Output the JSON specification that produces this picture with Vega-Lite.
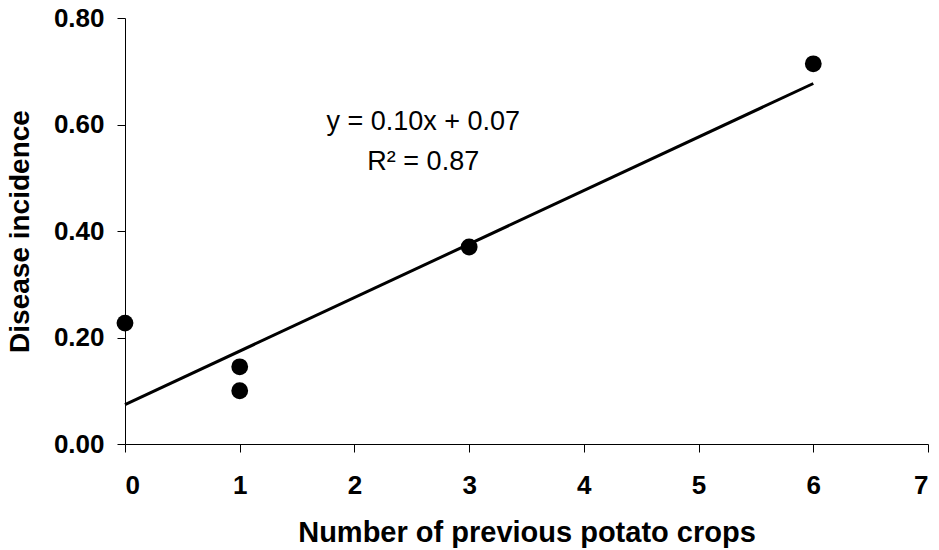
{
  "$schema": "https://vega.github.io/schema/vega-lite/v6.json",
  "width": 803,
  "height": 426,
  "autosize": {"type": "none"},
  "padding": {"left": 125, "top": 18, "right": 11, "bottom": 106},
  "background": "white",
  "config": {
    "view": {"stroke": null},
    "font": "Liberation Sans",
    "axis": {
      "grid": false,
      "domainColor": "black",
      "domainWidth": 1,
      "tickColor": "black",
      "tickWidth": 1,
      "tickSize": 8,
      "labelFont": "Liberation Sans",
      "labelFontWeight": "bold",
      "labelFontSize": 26,
      "labelColor": "black",
      "titleFont": "Liberation Sans",
      "titleFontWeight": "bold",
      "titleColor": "black"
    }
  },
  "datasets": {
    "obs": [
      {"crops": 0, "incidence": 0.227},
      {"crops": 1, "incidence": 0.145},
      {"crops": 1, "incidence": 0.100},
      {"crops": 3, "incidence": 0.370},
      {"crops": 6, "incidence": 0.714}
    ],
    "trend": [
      {"crops": 0, "incidence": 0.074},
      {"crops": 6, "incidence": 0.677}
    ],
    "notes": [
      {"crops": 2.6, "incidence": 0.605, "label": "y = 0.10x + 0.07"},
      {"crops": 2.6, "incidence": 0.530, "label": "R² = 0.87"}
    ]
  },
  "layer": [
    {
      "data": {"name": "trend"},
      "mark": {"type": "line", "color": "black", "strokeWidth": 3},
      "encoding": {
        "x": {
          "field": "crops",
          "type": "quantitative",
          "scale": {"domain": [0, 7], "nice": false, "zero": false},
          "axis": {
            "title": "Number of previous potato crops",
            "titleFontSize": 29,
            "values": [0, 1, 2, 3, 4, 5, 6, 7],
            "format": "d",
            "labelPadding": 20,
            "titlePadding": 20
          }
        },
        "y": {
          "field": "incidence",
          "type": "quantitative",
          "scale": {"domain": [0, 0.8], "nice": false},
          "axis": {
            "title": "Disease incidence",
            "titleFontSize": 28,
            "values": [0, 0.2, 0.4, 0.6, 0.8],
            "format": ".2f",
            "labelPadding": 13,
            "titlePadding": 19
          }
        }
      }
    },
    {
      "data": {"name": "obs"},
      "mark": {"type": "circle", "color": "black", "opacity": 1, "size": 283},
      "encoding": {
        "x": {"field": "crops", "type": "quantitative"},
        "y": {"field": "incidence", "type": "quantitative"}
      }
    },
    {
      "data": {"name": "notes"},
      "mark": {"type": "text", "font": "Liberation Sans", "fontSize": 27, "color": "black", "align": "center", "baseline": "middle"},
      "encoding": {
        "x": {"field": "crops", "type": "quantitative"},
        "y": {"field": "incidence", "type": "quantitative"},
        "text": {"field": "label"}
      }
    }
  ]
}
